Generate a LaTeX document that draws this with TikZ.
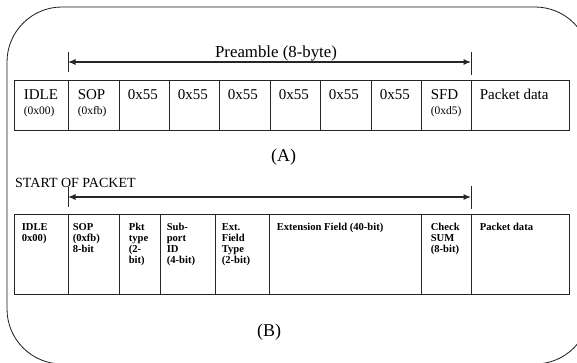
\documentclass[tikz,border=0pt]{standalone}
\usepackage{fontspec}
\setmainfont{Liberation Serif}
\usetikzlibrary{arrows.meta}
\tikzset{
  cellbox/.style={draw=black!85, line width=0.8pt, inner sep=0pt, minimum height=#1},
  txt/.style={inner sep=0pt, anchor=base west, font=\fontsize{15}{17}\selectfont, align=left},
  small/.style={font=\fontsize{11.5}{13}\selectfont},
  btxt/.style={inner sep=0pt, anchor=base west, align=left, font=\fontsize{10.6}{11.1}\selectfont\bfseries},
  span/.style={draw=black!85, line width=1.1pt, {Latex[length=7.5pt,width=6pt]}-{Latex[length=7.5pt,width=6pt]}},
  tick/.style={draw=black!85, line width=0.8pt},
}
\begin{document}
\begin{tikzpicture}[x=1pt,y=-1pt]
\useasboundingbox (0,0) rectangle (577,363);
\clip (0,0) rectangle (577,363);
% outer frame
\draw[line width=0.8pt, black!90, rounded corners=55pt] (7,7) rectangle (590,364);

% ----- Table A -----
\foreach \l/\r [count=\i] in {14/68,68/119,119/169,169/219,219/270,270/320,320/371,371/421,421/471,471/569}
  \node[cellbox=50pt, minimum width={(\r-\l)*1pt}] (a\i) at ({(\l+\r)/2},105) {};

\node[txt] (ta1) at ([xshift=10pt,yshift=-20pt]a1.north west) {IDLE};
\node[txt, small] (sa1) at ([xshift=10pt,yshift=-35pt]a1.north west) {(0x00)};
\node[txt] (ta2) at ([xshift=10pt,yshift=-20pt]a2.north west) {SOP};
\node[txt, small] (sa2) at ([xshift=10pt,yshift=-35pt]a2.north west) {(0xfb)};
\foreach \i in {3,...,8}
  \node[txt] (ta\i) at ([xshift=9pt,yshift=-20pt]a\i.north west) {0x55};
\node[txt] (ta9) at ([xshift=10pt,yshift=-20pt]a9.north west) {SFD};
\node[txt, small] (sa9) at ([xshift=10pt,yshift=-35pt]a9.north west) {(0xd5)};
\node[txt] (ta10) at ([xshift=9pt,yshift=-20pt]a10.north west) {Packet data};

% preamble arrow
\coordinate (pL) at (68,62);
\coordinate (pR) at (471,62);
\draw[tick] ([yshift=10pt]pL) -- ([yshift=-10pt]pL);
\draw[tick] ([yshift=10pt]pR) -- ([yshift=-13pt]pR);
\draw[span] (pL) -- (pR);
\node[inner sep=0pt, anchor=base, font=\fontsize{16.8}{20}\selectfont] (pre) at (276,57.3) {Preamble (8-byte)};

\node[inner sep=0pt, anchor=base, font=\fontsize{18}{20}\selectfont] (labA) at (283.5,161.5) {(A)};

% ----- Table B -----
\node[inner sep=0pt, anchor=base west, font=\fontsize{14}{16}\selectfont] (sop) at (15,187) {START OF PACKET};
\coordinate (qL) at (68,197);
\coordinate (qR) at (471,197);
\draw[tick] ([yshift=10pt]qL) -- ([yshift=-10pt]qL);
\draw[tick] ([yshift=11pt]qR) -- ([yshift=-12pt]qR);
\draw[span] (qL) -- (qR);

\foreach \l/\r [count=\i] in {14/68,68/119,119/160,160/215,215/269,269/421,421/471,471/569}
  \node[cellbox=80pt, minimum width={(\r-\l)*1pt}] (b\i) at ({(\l+\r)/2},254) {};

% base of a multi-line node is its last line: shift by (lines-1)*11.1pt
\node[btxt] (tb1) at ([xshift=8pt,yshift=-28.1pt]b1.north west) {IDLE\\0x00)};
\node[btxt] (tb2) at ([xshift=5pt,yshift=-39.2pt]b2.north west) {SOP\\(0xfb)\\8-bit};
\node[btxt] (tb3) at ([xshift=10pt,yshift=-50.3pt]b3.north west) {Pkt\\type\\(2-\\bit)};
\node[btxt] (tb4) at ([xshift=7pt,yshift=-50.3pt]b4.north west) {Sub-\\port\\ID\\(4-bit)};
\node[btxt] (tb5) at ([xshift=7pt,yshift=-50.3pt]b5.north west) {Ext.\\Field\\Type\\(2-bit)};
\node[btxt] (tb6) at ([xshift=8pt,yshift=-17pt]b6.north west) {Extension Field (40-bit)};
\node[btxt] (tb7) at ([xshift=10pt,yshift=-39.2pt]b7.north west) {Check\\SUM\\(8-bit)};
\node[btxt] (tb8) at ([xshift=9pt,yshift=-17pt]b8.north west) {Packet data};

\node[inner sep=0pt, anchor=base, font=\fontsize{18}{20}\selectfont] (labB) at (269,336.5) {(B)};
\end{tikzpicture}
\end{document}
